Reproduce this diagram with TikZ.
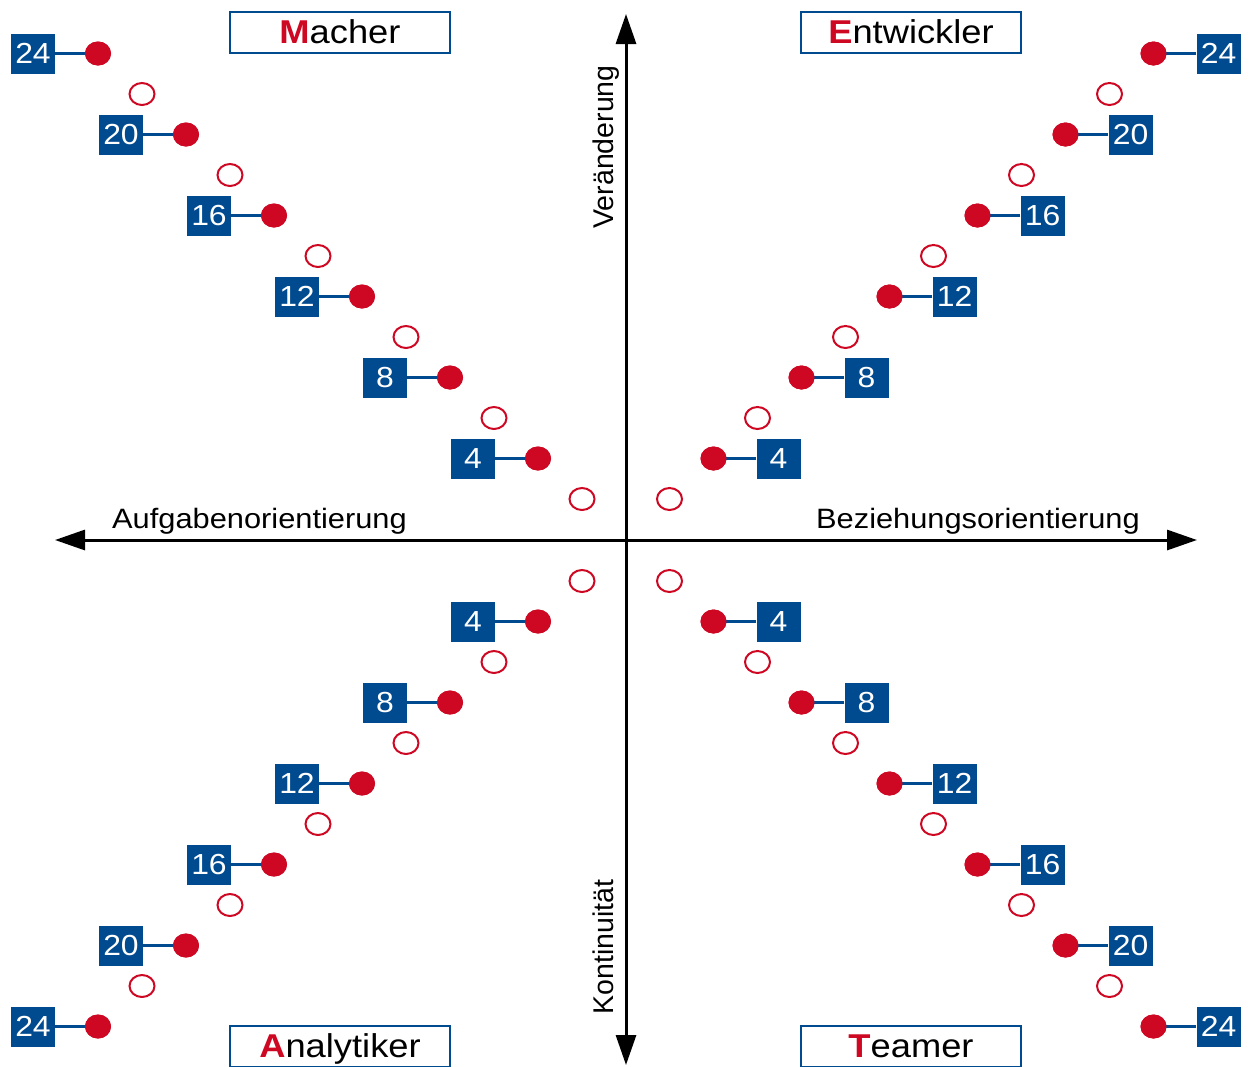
\documentclass[tikz,border=0pt]{standalone}
\usepackage{fontspec}
\setmainfont[FakeStretch=1.1]{Liberation Sans}
\newfontfamily\plainfont{Liberation Sans}
\usetikzlibrary{shapes.geometric,arrows.meta}
\definecolor{myblue}{RGB}{0,74,143}
\definecolor{myred}{RGB}{206,8,35}
\begin{document}
\begin{tikzpicture}[x=1pt,y=-1pt,
  numbox/.style={fill=myblue, text=white, minimum width=44pt, minimum height=40pt, inner sep=0pt, font=\fontsize{29}{29}\selectfont},
  fdot/.style={ellipse, fill=myred, minimum width=26pt, minimum height=24pt, inner sep=0pt},
  odot/.style={ellipse, draw=myred, line width=2pt, minimum width=25pt, minimum height=22pt, inner sep=0pt},
  link/.style={draw=myblue, line width=2.5pt},
  titlebox/.style={draw=myblue, line width=2pt, minimum width=220pt, minimum height=41pt, inner sep=0pt, text height=26pt, text depth=4pt, font=\fontsize{33}{33}\selectfont},
  axisline/.style={line width=3pt, {Triangle[length=30pt,width=20pt]}-{Triangle[length=30pt,width=20pt]}},
  axlabel/.style={font=\fontsize{28}{28}\selectfont, inner sep=0pt},
  vlabel/.style={font=\plainfont\fontsize{28.5}{28.5}\selectfont, inner sep=0pt, rotate=90}
]
\useasboundingbox (0,0) rectangle (1249,1066);
\fill[white] (0,0) rectangle (1249,1066);

% axes
\coordinate (top) at (626,14);
\coordinate (bottom) at (626,1065);
\coordinate (left) at (55,540);
\coordinate (right) at (1197,540);
\draw[axisline] (top) -- (bottom);
\draw[axisline] (left) -- (right);

% axis labels
\node[axlabel, anchor=base west] (lAufgabe) at (112,528) {Aufgabenorientierung};
\node[axlabel, anchor=base east] (lBeziehung) at (1140,528) {Beziehungsorientierung};
\node[vlabel, anchor=base] (lVer) at (613,147) {Veränderung};
\node[vlabel, anchor=base] (lKon) at (613,947) {Kontinuität};

% title boxes
\node[titlebox] (tMacher) at (340,32.5) {{\color{myred}\textbf{M}}acher};
\node[titlebox] (tEntw) at (911,32.5) {{\color{myred}\textbf{E}}ntwickler};
\node[titlebox] (tAnaly) at (340,1046.5) {{\color{myred}\textbf{A}}nalytiker};
\node[titlebox] (tTeam) at (911,1046.5) {{\color{myred}\textbf{T}}eamer};

% quadrants
\foreach \i in {1,...,6}{
  \pgfmathsetmacro{\v}{int(4*\i)}
  \pgfmathsetmacro{\xl}{626-88*\i}
  \pgfmathsetmacro{\xr}{625.5+88*\i}
  \pgfmathsetmacro{\yt}{539.5-81*\i}
  \pgfmathsetmacro{\yb}{540.5+81*\i}
  \pgfmathsetmacro{\oxl}{\xl+44}
  \pgfmathsetmacro{\oxr}{\xr-44}
  \pgfmathsetmacro{\oyt}{\yt+40.5}
  \pgfmathsetmacro{\oyb}{\yb-40.5}
  % top-left
  \node[odot] (tlopen\i) at (\oxl,\oyt) {};
  \node[fdot] (tldot\i) at (\xl,\yt) {};
  \node[numbox] (tlbox\i) at (\xl-65,\yt) {\v};
  \draw[link] (tlbox\i.east) -- (tldot\i.center);
  \node[fdot] (tldot\i) at (\xl,\yt) {};
  % top-right
  \node[odot] (tropen\i) at (\oxr,\oyt) {};
  \node[fdot] (trdot\i) at (\xr,\yt) {};
  \node[numbox] (trbox\i) at (\xr+65,\yt) {\v};
  \draw[link] (trbox\i.west) -- (trdot\i.center);
  \node[fdot] (trdot\i) at (\xr,\yt) {};
  % bottom-left
  \node[odot] (blopen\i) at (\oxl,\oyb) {};
  \node[fdot] (bldot\i) at (\xl,\yb) {};
  \node[numbox] (blbox\i) at (\xl-65,\yb) {\v};
  \draw[link] (blbox\i.east) -- (bldot\i.center);
  \node[fdot] (bldot\i) at (\xl,\yb) {};
  % bottom-right
  \node[odot] (bropen\i) at (\oxr,\oyb) {};
  \node[fdot] (brdot\i) at (\xr,\yb) {};
  \node[numbox] (brbox\i) at (\xr+65,\yb) {\v};
  \draw[link] (brbox\i.west) -- (brdot\i.center);
  \node[fdot] (brdot\i) at (\xr,\yb) {};
}
\end{tikzpicture}
\end{document}
